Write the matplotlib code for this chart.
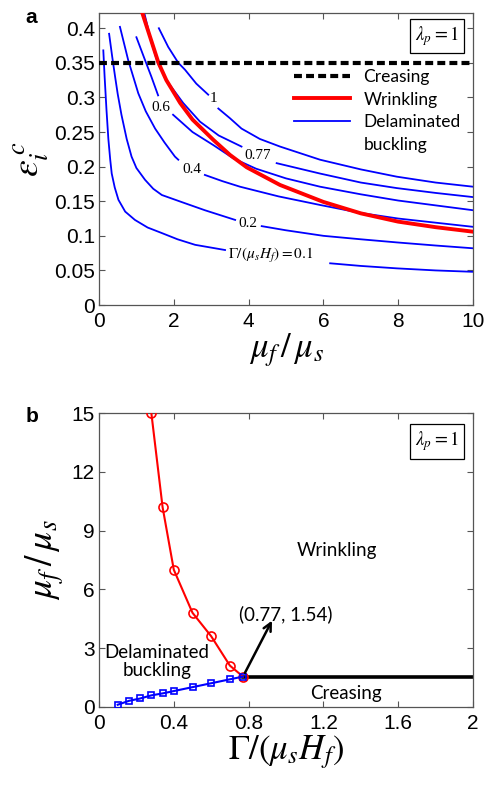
import numpy as np
import matplotlib
matplotlib.use('Agg')
import matplotlib.pyplot as plt

plt.rcParams['mathtext.fontset'] = 'stix'
plt.rcParams['font.family'] = ['Liberation Sans', 'DejaVu Sans']

# ---------- panel a: critical strain vs modulus ratio ----------
crease_strain = 0.35

wrinkle_x = [1.17, 1.35, 1.59, 1.8, 2.17, 2.5, 3.06, 3.5, 3.95, 4.84, 6.0, 7.0, 8.0, 9.0, 10.0]
wrinkle_y = [0.42, 0.39, 0.35, 0.325, 0.292, 0.268, 0.2385, 0.217, 0.199, 0.1735, 0.149, 0.1325, 0.1205, 0.1125, 0.106]

# delaminated buckling curves, nan marks the gap left for the inline label
g010_x = [0.115, 0.15, 0.2, 0.25, 0.3, 0.34, 0.42, 0.52, 0.7, 0.96, 1.3, 1.68, 2.1, 2.57, 3.37,
          np.nan, 6.18, 7.0, 7.96, 9.0, 10.0]
g010_y = [0.368, 0.33, 0.282, 0.24, 0.21, 0.19, 0.17, 0.152, 0.135, 0.123, 0.112, 0.104, 0.095, 0.087, 0.0795,
          np.nan, 0.0603, 0.0565, 0.053, 0.050, 0.048]

g020_x = [0.27, 0.35, 0.43, 0.5, 0.6, 0.74, 0.87, 1.0, 1.23, 1.45, 1.68, 2.2, 2.83, 3.64,
          np.nan, 4.35, 5.0, 6.0, 7.0, 7.96, 9.0, 10.0]
g020_y = [0.392, 0.36, 0.33, 0.305, 0.275, 0.24, 0.2145, 0.198, 0.181, 0.168, 0.159, 0.149, 0.137, 0.123,
          np.nan, 0.114, 0.108, 0.100, 0.095, 0.0905, 0.086, 0.082]

g040_x = [0.56, 0.78, 1.05, 1.25, 1.5, 1.75, 2.03, 2.12, np.nan, 2.83, 3.3, 3.77, 4.8, 5.91, 7.0, 8.0, 9.0, 10.0]
g040_y = [0.402, 0.354, 0.306, 0.28, 0.255, 0.235, 0.2145, 0.21, np.nan, 0.188, 0.179, 0.171, 0.157, 0.1446, 0.133, 0.125, 0.119, 0.113]

g060_x = [1.0, 1.23, 1.4, 1.58, np.nan, 1.98, 2.5, 3.06, 3.59, 4.2, 5.0, 5.91, 7.0, 8.0, 9.0, 10.0]
g060_y = [0.387, 0.354, 0.33, 0.303, np.nan, 0.275, 0.25, 0.231, 0.212, 0.197, 0.183, 0.171, 0.160, 0.151, 0.144, 0.137]

g077_x = [1.22, 1.4, 1.57, 1.8, 2.25, 2.7, 3.2, 3.81, np.nan, 4.75, 5.91, 7.0, 7.96, 9.0, 10.0]
g077_y = [0.42, 0.38, 0.35, 0.325, 0.292, 0.265, 0.245, 0.229, np.nan, 0.205, 0.19, 0.177, 0.169, 0.162, 0.156]

g100_x = [1.6, 1.85, 2.12, 2.3, 2.6, 2.92, np.nan, 3.19, 3.5, 3.81, 4.3, 4.84, 5.91, 7.0, 7.96, 9.0, 10.0]
g100_y = [0.40, 0.373, 0.35, 0.34, 0.32, 0.304, np.nan, 0.284, 0.27, 0.255, 0.24, 0.229, 0.21, 0.196, 0.1855, 0.177, 0.171]

curve_labels = ['0.2', '0.4', '0.6', '0.77', '1']

# ---------- panel b: phase diagram ----------
wr_gamma = [0.28, 0.34, 0.40, 0.50, 0.60, 0.70, 0.77]
wr_ratio = [15.0, 10.2, 7.0, 4.8, 3.6, 2.1, 1.54]

db_gamma = [0.1, 0.16, 0.22, 0.28, 0.34, 0.40, 0.50, 0.60, 0.70, 0.77]
db_ratio = [0.1, 0.3, 0.42, 0.58, 0.68, 0.8, 1.0, 1.2, 1.4, 1.54]

crease_gamma = [0.77, 2.0]
crease_ratio = [1.54, 1.54]

triple_point = (0.77, 1.54)

fig = plt.figure(figsize=(4.87, 7.89), dpi=100)
ax1 = fig.add_axes([0.2033, 0.6134, 0.768, 0.3701])
ax2 = fig.add_axes([0.2033, 0.1043, 0.768, 0.3719])

spine_col = '#555555'
txt_font = ['Lato', 'DejaVu Sans']


def style_axes(ax):
    for s in ax.spines.values():
        s.set_color(spine_col)
        s.set_linewidth(0.9)
    ax.tick_params(direction='in', top=True, right=True, length=4,
                   width=0.8, color=spine_col, labelsize=15)
    ax.tick_params(axis='x', pad=5)
    ax.tick_params(axis='y', pad=3)


# ========== panel a ==========
ax1.plot([0, 10], [crease_strain, crease_strain], color='black', lw=3,
         dashes=[1.9, 1.0], label='Creasing', zorder=4)
blue_kw = dict(color='blue', lw=1.3)
for xs, ys in [(g010_x, g010_y), (g020_x, g020_y), (g040_x, g040_y),
               (g060_x, g060_y), (g077_x, g077_y), (g100_x, g100_y)]:
    ax1.plot(xs, ys, **blue_kw)
ax1.plot(wrinkle_x, wrinkle_y, color='red', lw=2.8, label='Wrinkling', zorder=3)
ax1.plot([], [], label='Delaminated', **blue_kw)
# second line of the last legend entry, no handle
ax1.plot([], [], color='none', label='buckling')

lab_kw = dict(family='Liberation Serif', fontsize=11, ha='center', va='center')
for txt, (lx, ly) in zip(curve_labels, [(3.99, 0.118), (2.48, 0.196), (1.65, 0.286),
                                        (4.24, 0.216), (3.06, 0.299)]):
    ax1.text(lx, ly, txt, **lab_kw)
ax1.text(3.45, 0.071, r'$\Gamma/\left(\mu_s H_f\right) = 0.1$', fontsize=11,
         ha='left', va='center')

ax1.set_xlim(0, 10)
ax1.set_ylim(0, 0.422)
ax1.set_xticks([0, 2, 4, 6, 8, 10])
yt = [0, 0.05, 0.1, 0.15, 0.2, 0.25, 0.3, 0.35, 0.4]
ax1.set_yticks(yt)
ax1.set_yticklabels(['0', '0.05', '0.1', '0.15', '0.2', '0.25', '0.3', '0.35', '0.4'])
style_axes(ax1)
ax1.set_xlabel(r'$\mu_f\,/\,\mu_s$', fontsize=25, labelpad=0)
ax1.set_ylabel(r'$\varepsilon_i^{\,c}$', fontsize=27, labelpad=2)

leg = ax1.legend(loc='upper right', bbox_to_anchor=(1.0, 0.85), frameon=False,
                 prop={'family': txt_font, 'size': 12.5}, handlelength=3.2,
                 handletextpad=0.8, labelspacing=0.38, borderaxespad=0.3)
ax1.text(0.962, 0.921, r'$\lambda_p = 1$', transform=ax1.transAxes, fontsize=13.5,
         ha='right', va='center',
         bbox=dict(boxstyle='square,pad=0.28', fc='white', ec='black', lw=0.9))
fig.text(0.052, 0.978, 'a', fontsize=15, fontweight='bold', va='center', ha='left')

# ========== panel b ==========
ax2.plot(wr_gamma, wr_ratio, '-o', color='red', lw=1.5, ms=6.5, mfc='none',
         mew=1.2, zorder=3)
ax2.plot(db_gamma, db_ratio, '-s', color='blue', lw=1.5, ms=5.0, mfc='none',
         mew=1.2, zorder=3)
ax2.plot(crease_gamma, crease_ratio, color='black', lw=2.6, zorder=2)
ax2.annotate('', xy=(0.925, 4.4), xytext=triple_point,
             arrowprops=dict(arrowstyle='->', color='black', lw=1.8,
                             mutation_scale=14, shrinkA=3, shrinkB=0))
ax2.text(1.0, 4.74, '(%.2f, %.2f)' % triple_point, fontsize=13.5, family=txt_font,
         ha='center', va='center')
ax2.text(1.27, 8.0, 'Wrinkling', fontsize=13.5, family=txt_font, ha='center', va='center')
ax2.text(1.32, 0.70, 'Creasing', fontsize=13.5, family=txt_font, ha='center', va='center')
ax2.text(0.31, 2.3, 'Delaminated\nbuckling', fontsize=13.5, family=txt_font,
         ha='center', va='center', linespacing=1.1)

ax2.set_xlim(0, 2)
ax2.set_ylim(0, 15)
ax2.set_xticks([0, 0.4, 0.8, 1.2, 1.6, 2.0])
ax2.set_xticklabels(['0', '0.4', '0.8', '1.2', '1.6', '2'])
ax2.set_yticks([0, 3, 6, 9, 12, 15])
style_axes(ax2)
ax2.set_xlabel(r'$\Gamma/\left(\mu_s H_f\right)$', fontsize=25, labelpad=0)
ax2.set_ylabel(r'$\mu_f\,/\,\mu_s$', fontsize=27, labelpad=4)
ax2.text(0.962, 0.904, r'$\lambda_p = 1$', transform=ax2.transAxes, fontsize=13.5,
         ha='right', va='center',
         bbox=dict(boxstyle='square,pad=0.28', fc='white', ec='black', lw=0.9))
fig.text(0.052, 0.472, 'b', fontsize=15, fontweight='bold', va='center', ha='left')

fig.savefig('out.png', dpi=100)
